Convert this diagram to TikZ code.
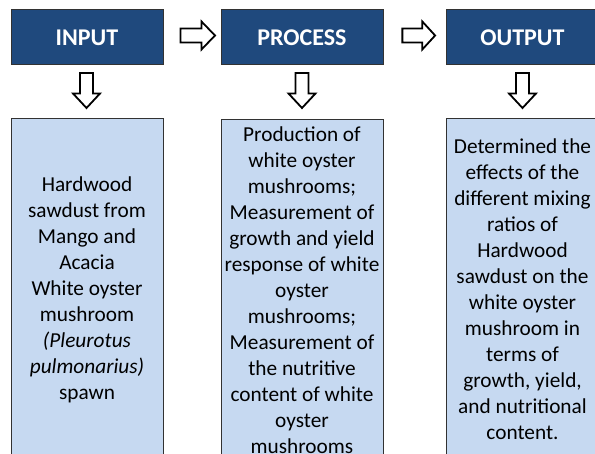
\documentclass[tikz,border=0pt]{standalone}
\usepackage{fontspec}
\setmainfont{Carlito}
\definecolor{hdrblue}{RGB}{31,73,125}
\definecolor{boxblue}{RGB}{198,217,241}
\definecolor{edgegray}{RGB}{50,50,50}
\tikzset{
  header/.style={draw=edgegray, line width=1pt, fill=hdrblue, text=white,
    minimum width=152pt, minimum height=55pt, inner sep=0pt,
    font=\fontsize{24}{29}\selectfont\bfseries},
  content/.style={draw=edgegray, line width=1pt, fill=boxblue, text=black,
    minimum height=341pt, inner sep=0pt, align=center,
    font=\fontsize{21.3}{26}\selectfont},
  arrowline/.style={draw=black, fill=white, line width=1.8pt, line join=miter},
  rblock/.pic={\path[arrowline] (-17,-7) -- (4,-7) -- (4,-14) -- (17.5,0)
     -- (4,14) -- (4,7) -- (-17,7) -- cycle;},
  dblock/.pic={\path[arrowline] (-6.5,-17.5) -- (6.5,-17.5) -- (6.5,3) -- (13.5,3)
     -- (0,17.5) -- (-13.5,3) -- (-6.5,3) -- (-6.5,3) -- cycle;}
}
\begin{document}
\begin{tikzpicture}[x=1pt,y=-1pt]
\useasboundingbox (0,0) rectangle (595,454);
\clip (0,0) rectangle (595,454);
\fill[white] (0,0) rectangle (595,454);
% headers
\node[header] (in) at (87,37.5) {INPUT};
\node[header, minimum width=162pt] (pr) at (302,37.5) {PROCESS};
\node[header] (out) at (522.5,37.5) {OUTPUT};
% right arrows
\coordinate (r1) at (197.5,35.5);
\coordinate (r2) at (418.5,35.5);
\pic at (r1) {rblock};
\pic[xscale=0.95] at (r2) {rblock};
% down arrows
\coordinate (d1) at (86.5,90.5);
\coordinate (d2) at (302,90.5);
\coordinate (d3) at (522.5,90.5);
\pic at (d1) {dblock};
\pic at (d2) {dblock};
\pic at (d3) {dblock};
% content boxes
\node[content, minimum width=152pt] (inbox) at (87,289.5) {Hardwood\\sawdust from\\Mango and\\Acacia\\White oyster\\mushroom\\\textit{(Pleurotus}\\\textit{pulmonarius)}\\spawn};
\node[content, minimum width=162pt] (prbox) at (302,290) {Production of\\white oyster\\mushrooms;\\Measurement of\\growth and yield\\response of white\\oyster\\mushrooms;\\Measurement of\\the nutritive\\content of white\\oyster\\mushrooms};
\node[content, minimum width=152pt] (outbox) at (522.5,289.5) {Determined the\\effects of the\\different mixing\\ratios of\\Hardwood\\sawdust on the\\white oyster\\mushroom in\\terms of\\growth, yield,\\and nutritional\\content.};
\end{tikzpicture}
\end{document}
